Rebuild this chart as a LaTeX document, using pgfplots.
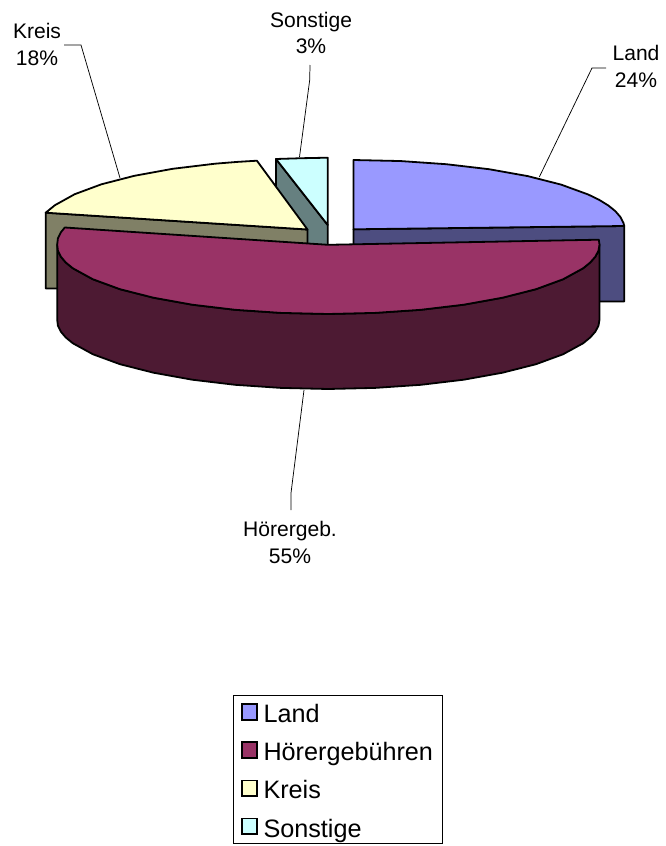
\documentclass[border=0pt]{standalone}
\usepackage{fontspec}
\setmainfont{Liberation Sans}
\usepackage{pgfplots}
\pgfplotsset{compat=1.18}

\definecolor{landtop}{HTML}{9999FF}
\definecolor{landside}{HTML}{4D4D80}
\definecolor{hoertop}{HTML}{993366}
\definecolor{hoerside}{HTML}{4D1A33}
\definecolor{kreistop}{HTML}{FFFFCC}
\definecolor{kreisside}{HTML}{808066}
\definecolor{sonsttop}{HTML}{CCFFFF}
\definecolor{sonstside}{HTML}{668080}

\pgfplotsset{
    face/.style={draw=black, line width=1.35pt, line join=round, forget plot},
    leader/.style={draw=black, line width=0.55pt, forget plot},
}
\tikzset{
    lab/.style={font=\fontsize{15.8}{20.2}\selectfont, align=center, inner sep=0pt},
}

\begin{document}
\begin{tikzpicture}
\path[use as bounding box] (0,0) rectangle (499.5pt,634.5pt);
\begin{axis}[
    at={(0,0)}, anchor=south west,
    scale only axis,
    width=499.5pt,
    height=634.5pt,
    xmin=0, xmax=666,
    ymin=0, ymax=846,
    y dir=reverse,
    hide axis,
    no markers,
    clip=false,
    legend cell align=left,
    legend style={
        at={(233.4/666,1-694.6/846)}, anchor=north west,
        draw=black, line width=0.6pt,
        font=\fontsize{18.9}{22}\selectfont,
        inner xsep=5.75pt, inner ysep=3.2pt,
        row sep=9.6pt,
        nodes={text height=16.5pt, text depth=0.5pt, inner sep=1pt},
    },
    legend image code/.code={
        \path[draw=none, fill=none] (0pt,0pt) -- (14.85pt,0pt);
        \draw[draw=black, line width=1.35pt] (0pt,-5.85pt) rectangle (10.7pt,5.85pt);
    },
]

% Sonstige
\addplot[face, fill=sonstside] coordinates {
    (276,159) (327.7,225) (327.7,300) (276,234)
} --cycle;
\addplot[face, fill=sonsttop] coordinates {
    (276,159) (302,158.2) (327.7,157.7) (327.7,225)
} --cycle;

% Land
\addplot[face, fill=landside] coordinates {
    (353.5,229.3) (624.2,226) (624.2,301.5) (353.5,301.5)
} --cycle;
\addplot[face, fill=landtop] coordinates {
    (353.5,160) (400.6,161.05) (446.2,164.2) (489,169.2) (527.7,176.1)
    (561.1,184.6) (588.2,194.5) (599.1,199.8) (608.2,205.4) (615.3,211.1)
    (620.4,217) (623.5,223) (624.2,226) (353.5,229.3)
} --cycle;

% Kreis
\addplot[face, fill=kreisside] coordinates {
    (45.7,212.7) (307.5,229.5) (307.5,288.5) (45.7,288.5)
} --cycle;
\addplot[face, fill=kreistop] coordinates {
    (45.7,212.7) (47.8,211) (54.9,205.2) (74.6,194.25) (101.4,184.3)
    (134.4,175.8) (172.7,168.8) (215,163.7) (237.3,161.9) (256.9,160.7)
    (307.5,229.5)
} --cycle;

% Hoerergebuehren
\addplot[face, fill=hoerside] coordinates {
    (599.5,244.5) (598.5,250.6) (595.4,256.6) (590.2,262.5) (583.1,268.3)
    (563.1,279.25) (536,289.2) (502.5,297.7) (463.75,304.7) (420.9,309.8)
    (375.1,312.9) (328,314) (280.9,312.9) (235.1,309.8) (192.25,304.7)
    (153.5,297.7) (120,289.2) (92.9,279.25) (72.9,268.3) (65.8,262.5)
    (60.8,256.6) (57.9,250.6) (57.2,244.5)
    (57.2,319.5) (57.9,325.6) (60.8,331.6) (65.8,337.5) (72.9,343.3)
    (92.9,354.25) (120,364.2) (153.5,372.7) (192.25,379.7) (235.1,384.8)
    (280.9,387.9) (328,389) (375.1,387.9) (420.9,384.8) (463.75,379.7)
    (502.5,372.7) (536,364.2) (563.1,354.25) (583.1,343.3) (590.2,337.5)
    (595.4,331.6) (598.5,325.6) (599.5,319.5)
} --cycle;
\addplot[face, fill=hoertop] coordinates {
    (64.8,227.5) (328,244.8) (598.8,239.7)
    (599.5,244.5) (598.5,250.6) (595.4,256.6) (590.2,262.5) (583.1,268.3)
    (563.1,279.25) (536,289.2) (502.5,297.7) (463.75,304.7) (420.9,309.8)
    (375.1,312.9) (328,314) (280.9,312.9) (235.1,309.8) (192.25,304.7)
    (153.5,297.7) (120,289.2) (92.9,279.25) (72.9,268.3) (65.8,262.5)
    (60.8,256.6) (57.9,250.6) (57.2,244.5) (57.9,238.4) (60.8,232.4)
} --cycle;

% Fuehrungslinien
\addplot[leader] coordinates {(539.3,177) (592,68) (606,68)};
\addplot[leader] coordinates {(120,178) (81,45) (64,45)};
\addplot[leader] coordinates {(299.5,157) (309.7,80) (310,65)};
\addplot[leader] coordinates {(304,390) (291,493) (291,510)};

\node[lab] at (636,66.5) {Land\\24\%};
\node[lab] at (37,44.5) {Kreis\\18\%};
\node[lab] at (311,33) {Sonstige\\3\%};
\node[lab] at (290,542.5) {Hörergeb.\\55\%};

% Legende
\addlegendimage{fill=landtop}
\addlegendentry{Land}
\addlegendimage{fill=hoertop}
\addlegendentry{Hörergebühren}
\addlegendimage{fill=kreistop}
\addlegendentry{Kreis}
\addlegendimage{fill=sonsttop}
\addlegendentry{Sonstige}

\end{axis}
\end{tikzpicture}
\end{document}
